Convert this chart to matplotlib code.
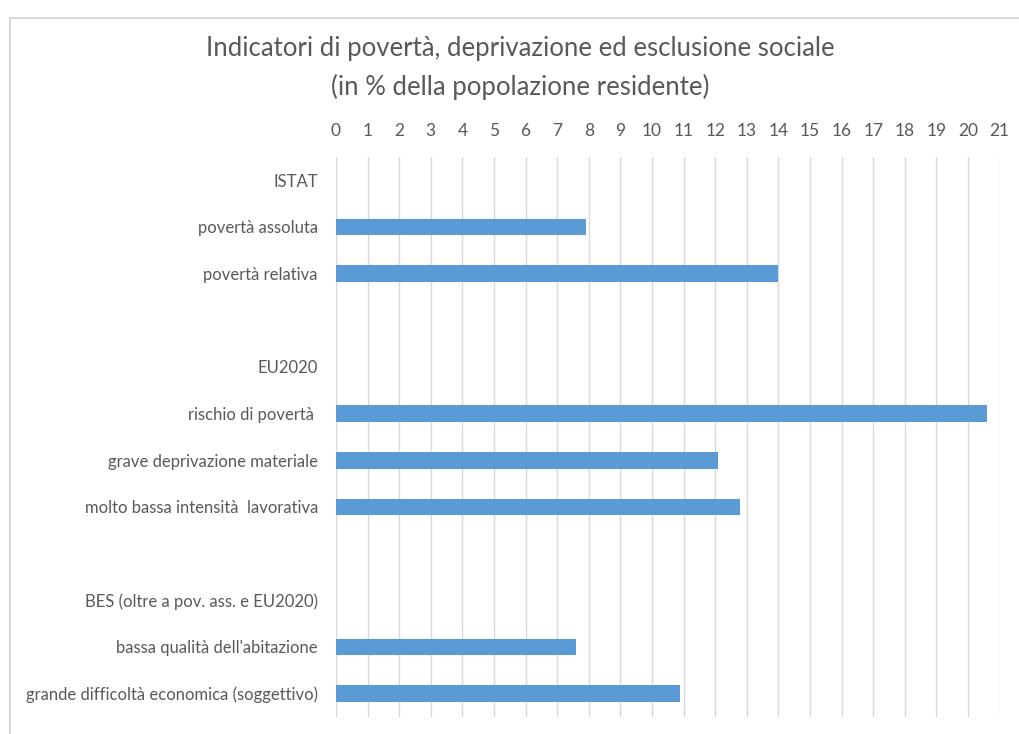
import numpy as np
import matplotlib.pyplot as plt
from matplotlib.lines import Line2D

# righe dall'alto verso il basso ('' = riga vuota di separazione)
categories = ['ISTAT', 'povertà assoluta', 'povertà relativa', '',
              'EU2020', 'rischio di povertà ', 'grave deprivazione materiale',
              'molto bassa intensità  lavorativa', '',
              'BES (oltre a pov. ass. e EU2020)', "bassa qualità dell'abitazione",
              'grande difficoltà economica (soggettivo)']
values = [np.nan, 7.9, 14.0, np.nan,
          np.nan, 20.6, 12.1, 12.8, np.nan,
          np.nan, 7.6, 10.9]
x_ticks = list(range(0, 22))

plt.rcParams['font.family'] = ['Lato', 'DejaVu Sans']
grey = '#595959'

fig = plt.figure(figsize=(10.2, 7.34), dpi=100)
ax = fig.add_axes([0.3294, 0.0232, 0.6506, 0.7629])

y = np.arange(len(categories))
ax.barh(y, values, height=0.36, color='#5B9BD5', zorder=3)

ax.set_xlim(0, 21)
ax.set_ylim(len(categories) - 0.5, -0.5)
ax.set_xticks(x_ticks)
ax.set_yticks(y)
ax.set_yticklabels(categories)
ax.xaxis.tick_top()
ax.tick_params(axis='x', length=0, pad=13, labelsize=12.5, labelcolor=grey)
ax.tick_params(axis='y', length=0, pad=13, labelsize=12, labelcolor=grey)
ax.grid(axis='x', color='#D9D9D9', linewidth=1, zorder=0)
for s in ax.spines.values():
    s.set_visible(False)

fig.text(0.51, 0.934, 'Indicatori di povertà, deprivazione ed esclusione sociale',
         ha='center', va='center', fontsize=18.5, color=grey)
fig.text(0.51, 0.882, '(in % della popolazione residente)',
         ha='center', va='center', fontsize=18.5, color=grey)

# cornice dell'area del grafico
fig.add_artist(Line2D([10 / 1020, 10 / 1020], [0, 1 - 18 / 734],
                      transform=fig.transFigure, color='#D9D9D9', linewidth=1.5))
fig.add_artist(Line2D([10 / 1020, 1], [1 - 18 / 734, 1 - 18 / 734],
                      transform=fig.transFigure, color='#D9D9D9', linewidth=1.5))

plt.savefig('out.png', dpi=100)
